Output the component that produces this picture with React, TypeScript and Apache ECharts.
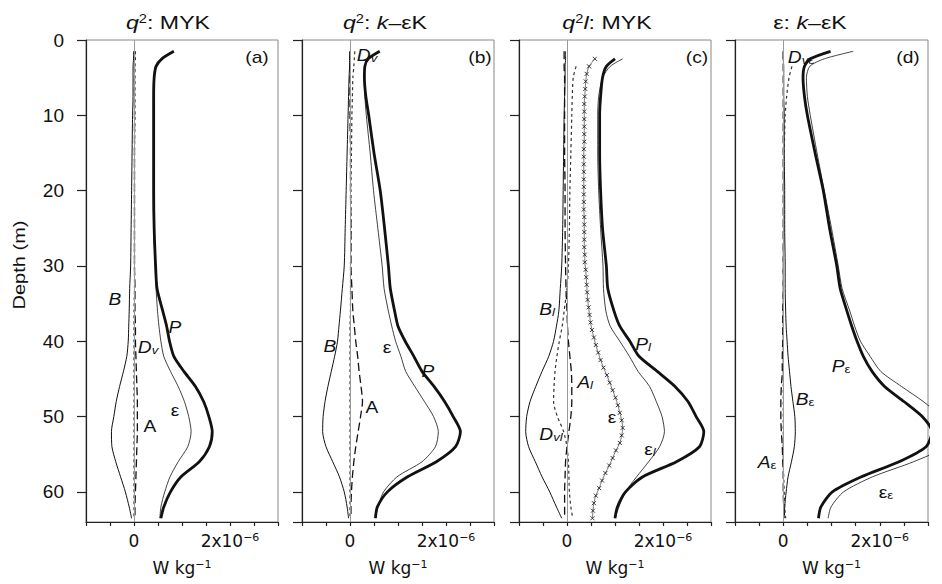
import React, { useEffect, useRef } from 'react';
import * as echarts from 'echarts';

// Depth levels (m) shared by the profiles
const DEPTH = [1.5, 2.5, 3.5, 5, 7.5, 10, 15, 20, 25, 30, 33, 36, 38, 40, 42, 44, 46, 48, 50, 52, 54, 56, 58, 60, 62, 63.5];
// Depth levels of the marked epsilon profile in panel (c)
const MARK_DEPTH = [2.5, 3.5, 4.5, 5.5, 6.5, 7.5, 8.5, 9.5, 10.5, 11.5, 12.5, 13.5, 14.5, 15.5, 16.5, 17.5, 18.5, 19.5, 20.5, 21.5, 22.5, 23.5, 24.5, 25.5, 26.5, 27.5, 28.5, 29.5, 30.5, 31.5, 32.5, 33.5, 34.5, 35.5, 36.5, 37.5, 38.5, 39.5, 40.5, 41.5, 42.5, 43.5, 44.5, 45.5, 46.5, 47.5, 48.5, 49.5, 50.5, 51.5, 52.5, 53.5, 54.5, 55.5, 56.5, 57.5, 58.5, 59.5, 60.5, 61.5, 62.5, 63.5];

// Values in units of 1e-6 W/kg
// (a) q2: MYK
const A_P = [0.83, 0.58, 0.46, 0.42, 0.41, 0.41, 0.41, 0.41, 0.42, 0.45, 0.48, 0.6, 0.68, 0.74, 0.83, 1.04, 1.28, 1.45, 1.56, 1.63, 1.57, 1.36, 0.98, 0.76, 0.62, 0.56];
const A_EPS = [null, null, 0.44, 0.41, 0.4, 0.4, 0.4, 0.4, 0.41, 0.44, 0.46, 0.49, 0.52, 0.56, 0.62, 0.76, 0.92, 1.05, 1.14, 1.19, 1.12, 0.92, 0.75, 0.64, 0.56, 0.54];
const A_B = [-0.01, -0.01, -0.02, -0.02, -0.02, -0.03, -0.04, -0.05, -0.06, -0.07, -0.09, -0.1, -0.11, -0.12, -0.15, -0.22, -0.3, -0.37, -0.42, -0.47, -0.46, -0.38, -0.28, -0.18, -0.1, -0.05];
const A_A = [0.01, 0.01, 0.01, 0.01, 0.01, 0.01, 0.01, 0.01, 0.01, 0.01, 0.02, 0.02, 0.03, 0.03, 0.04, 0.05, 0.06, 0.07, 0.07, 0.07, 0.06, 0.05, 0.04, 0.03, 0.02, 0.02];
const A_DV = [0.03, 0.03, 0.02, 0.02, 0.02, 0.02, 0.01, 0.01, 0.01, 0.01, 0.01, 0.0, 0.0, 0.0, 0.0, 0.0, 0.0, 0.0, 0.0, 0.0, 0.0, 0.0, 0.0, 0.0, 0.0, 0.0];

// (b) q2: k-eps K
const B_P = [0.62, 0.38, 0.31, 0.3, 0.33, 0.39, 0.5, 0.63, 0.72, 0.8, 0.84, 0.93, 1.0, 1.15, 1.33, 1.5, 1.75, 1.97, 2.15, 2.3, 2.2, 1.8, 1.2, 0.78, 0.57, 0.53];
const B_EPS = [null, null, null, 0.3, 0.31, 0.34, 0.42, 0.49, 0.58, 0.67, 0.71, 0.8, 0.87, 0.95, 1.06, 1.16, 1.35, 1.55, 1.74, 1.84, 1.78, 1.5, 0.98, 0.7, 0.58, 0.53];
const B_B = [0.0, -0.01, -0.01, -0.02, -0.03, -0.04, -0.06, -0.08, -0.1, -0.12, -0.16, -0.2, -0.23, -0.26, -0.32, -0.39, -0.46, -0.52, -0.56, -0.57, -0.5, -0.36, -0.22, -0.12, -0.06, -0.03];
const B_A = [0.0, 0.0, 0.0, 0.0, 0.0, 0.0, 0.01, 0.01, 0.02, 0.02, 0.04, 0.06, 0.09, 0.12, 0.16, 0.19, 0.23, 0.26, 0.22, 0.17, 0.12, 0.08, 0.05, 0.03, 0.02, 0.02];
const B_DV = [0.1, 0.09, 0.08, 0.06, 0.05, 0.04, 0.03, 0.02, 0.02, 0.01, 0.01, 0.01, 0.0, 0.0, 0.0, 0.0, 0.0, 0.0, 0.0, 0.0, 0.0, 0.0, 0.0, 0.0, 0.0, 0.0];

// (c) q2l: MYK
const C_P = [null, 1.0, 0.82, 0.74, 0.7, 0.68, 0.68, 0.7, 0.74, 0.82, 0.85, 0.98, 1.1, 1.31, 1.5, 1.88, 2.25, 2.52, 2.69, 2.85, 2.76, 2.28, 1.58, 1.22, 1.05, 1.0];
const C_EPSL = [null, 1.16, 0.9, 0.74, 0.66, 0.64, 0.64, 0.66, 0.7, 0.75, 0.76, 0.81, 0.9, 1.1, 1.3, 1.48, 1.72, 1.86, 1.98, 2.03, 1.93, 1.7, 1.45, 1.22, 1.08, 1.0];
const C_B = [-0.03, -0.03, -0.04, -0.04, -0.05, -0.06, -0.07, -0.08, -0.09, -0.11, -0.14, -0.17, -0.22, -0.28, -0.38, -0.52, -0.65, -0.77, -0.84, -0.86, -0.8, -0.66, -0.52, -0.36, -0.22, -0.11];
const C_DV = [null, null, 0.19, 0.13, 0.11, 0.1, 0.08, 0.06, 0.05, 0.03, 0.0, -0.06, -0.1, -0.16, -0.21, -0.25, -0.27, -0.28, -0.2, -0.07, 0.0, 0.03, 0.04, 0.05, 0.08, 0.12];
const C_A = [-0.06, -0.06, -0.06, -0.05, -0.05, -0.05, -0.05, -0.04, -0.04, -0.03, -0.02, 0.0, 0.01, 0.03, 0.06, 0.09, 0.1, 0.1, 0.08, 0.04, 0.0, -0.03, -0.04, -0.05, -0.05, -0.05];
const C_EPS = [0.58, 0.46, 0.41, 0.39, 0.38, 0.37, 0.36, 0.36, 0.36, 0.36, 0.36, 0.36, 0.35, 0.35, 0.35, 0.35, 0.35, 0.35, 0.35, 0.35, 0.35, 0.36, 0.36, 0.36, 0.36, 0.36, 0.37, 0.37, 0.39, 0.4, 0.41, 0.42, 0.43, 0.45, 0.47, 0.49, 0.52, 0.56, 0.6, 0.65, 0.7, 0.76, 0.83, 0.89, 0.95, 1.01, 1.06, 1.1, 1.14, 1.16, 1.14, 1.1, 1.02, 0.95, 0.88, 0.8, 0.73, 0.67, 0.6, 0.56, 0.54, 0.53];

// (d) eps: k-eps K
const D_P = [0.98, 0.56, 0.44, 0.41, 0.44, 0.5, 0.66, 0.83, 0.96, 1.11, 1.18, 1.32, 1.42, 1.53, 1.66, 1.84, 2.1, 2.5, 2.88, 3.08, 2.96, 2.4, 1.62, 1.02, 0.78, 0.73];
const D_EPS = [1.45, 0.85, 0.55, 0.48, 0.5, 0.56, 0.7, 0.85, 1.0, 1.14, 1.22, 1.38, 1.48, 1.6, 1.8, 2.02, 2.45, 2.9, 3.27, 3.5, 3.36, 2.7, 1.85, 1.25, 0.99, 0.93];
const D_B = [0.0, 0.0, 0.01, 0.01, 0.01, 0.02, 0.02, 0.03, 0.03, 0.04, 0.04, 0.05, 0.06, 0.08, 0.1, 0.13, 0.16, 0.2, 0.24, 0.25, 0.23, 0.17, 0.1, 0.06, 0.03, 0.02];
const D_A = [0.0, 0.0, 0.0, 0.0, 0.0, 0.0, 0.0, 0.0, 0.0, 0.0, 0.0, -0.01, -0.01, -0.01, -0.02, -0.02, -0.04, -0.05, -0.05, -0.04, -0.02, -0.01, 0.0, 0.0, 0.01, 0.03];
const D_DV = [null, null, 0.18, 0.12, 0.07, 0.04, 0.02, 0.01, 0.01, 0.0, 0.0, 0.0, 0.0, 0.0, 0.0, 0.0, 0.0, 0.0, 0.0, 0.0, 0.0, 0.0, 0.01, 0.02, 0.03, 0.05];

const X_MIN = -1;
const X_MAX = 3;
const X_STEP = 0.5;
const X_LABELS = [0, 2];
const Y_MIN = 0;
const Y_MAX = 64;
const Y_STEP = 10;

const FONT = '"Liberation Sans", Arial, Helvetica, sans-serif';
const WIDE = '"DejaVu Sans", "Liberation Sans", sans-serif';

const pairs = (vals: (number | null)[], depth: number[]) =>
  depth.map((d, i) => [vals[i], d]).filter((p) => p[0] !== null);

const App: React.FC = () => {
  const ref = useRef<HTMLDivElement>(null);

  useEffect(() => {
    if (!ref.current) return;
    const chart = echarts.init(ref.current, undefined, { renderer: 'svg' });

    const lefts = [86, 302, 519, 735];
    const widths = [192, 192, 192, 193];

    const rich = {
      n: { fontFamily: WIDE, fontSize: 17, color: '#111' },
      sup: { fontFamily: WIDE, fontSize: 11, color: '#111', verticalAlign: 'top', lineHeight: 10 },
    };

    const grids = lefts.map((l, i) => ({
      left: l,
      top: 40,
      width: widths[i],
      height: 482,
      show: true,
      borderColor: '#888',
      borderWidth: 1,
      backgroundColor: 'transparent',
    }));

    const xAxes = lefts.map((_, i) => ({
      type: 'value',
      gridIndex: i,
      min: X_MIN,
      max: X_MAX,
      interval: X_STEP,
      splitLine: { show: false },
      axisLine: { show: true, onZero: false, lineStyle: { color: '#222', width: 1.2 } },
      axisTick: { show: true, inside: false, length: 4, lineStyle: { color: '#222', width: 1.2 } },
      axisLabel: {
        show: true,
        margin: 10,
        formatter: (v: number) => {
          if (Math.abs(v - X_LABELS[0]) < 1e-9) return '{n|0}';
          if (Math.abs(v - X_LABELS[1]) < 1e-9) return '{n|2x10}{sup|−6}';
          return '';
        },
        rich,
      },
      name: '{n|W kg}{sup|−1}',
      nameLocation: 'middle',
      nameGap: 37,
      nameTextStyle: { rich },
    }));

    const yAxes = lefts.map((_, i) => ({
      type: 'value',
      gridIndex: i,
      inverse: true,
      min: Y_MIN,
      max: Y_MAX,
      interval: Y_STEP,
      splitLine: { show: false },
      axisLine: { show: true, onZero: false, lineStyle: { color: '#222', width: 1.2 } },
      axisTick: { show: true, inside: false, length: 9, lineStyle: { color: '#222', width: 1.2 } },
      axisLabel: {
        show: i === 0,
        margin: 22,
        fontFamily: FONT,
        fontSize: 19,
        color: '#111',
        showMaxLabel: false,
      },
    }));

    const zeroLine = {
      silent: true,
      symbol: 'none',
      label: { show: false },
      lineStyle: { color: '#999', width: 1, type: 'solid' },
      data: [{ xAxis: 0 }],
    };

    const line = (
      idx: number,
      vals: (number | null)[],
      style: any,
      extra: any = {},
      depth: number[] = DEPTH
    ) => ({
      type: 'line',
      xAxisIndex: idx,
      yAxisIndex: idx,
      data: pairs(vals, depth),
      showSymbol: false,
      symbol: 'none',
      smooth: 0.25,
      clip: false,
      lineStyle: style,
      ...extra,
    });

    const thick = { color: '#111', width: 2.8 };
    const thin = { color: '#111', width: 0.8 };
    const bStyle = { color: '#111', width: 1 };
    const aStyle = { color: '#111', width: 1.3, type: [8, 4] };
    const dvStyle = { color: '#333', width: 1.2, type: [3, 3] };

    const series: any[] = [];
    const panels = [
      { B: A_B, A: A_A, DV: A_DV, EPS: A_EPS, P: A_P },
      { B: B_B, A: B_A, DV: B_DV, EPS: B_EPS, P: B_P },
      { B: C_B, A: C_A, DV: C_DV, EPS: C_EPSL, P: C_P },
      { B: D_B, A: D_A, DV: D_DV, EPS: D_EPS, P: D_P },
    ];
    panels.forEach((p, i) => {
      series.push(line(i, p.B, bStyle, { markLine: zeroLine }));
      series.push(line(i, p.A, aStyle));
      series.push(line(i, p.DV, dvStyle));
      series.push(line(i, p.EPS, thin));
      if (i === 2) {
        series.push(
          line(
            2,
            C_EPS,
            { color: '#777', width: 1 },
            {
              showSymbol: true,
              symbol: 'path://M0,0L10,10M10,0L0,10',
              symbolSize: 4,
              itemStyle: { color: '#222', borderColor: '#222', borderWidth: 0.9 },
            },
            MARK_DEPTH
          )
        );
      }
      series.push(line(i, p.P, thick));
    });

    const labelRich = {
      n: { fontFamily: FONT, fontSize: 16, fill: '#111' },
      i: { fontFamily: FONT, fontSize: 16, fontStyle: 'italic', fill: '#111' },
      sub: { fontFamily: FONT, fontSize: 11, fill: '#111', verticalAlign: 'bottom', lineHeight: 8 },
      subi: { fontFamily: FONT, fontSize: 11, fontStyle: 'italic', fill: '#111', verticalAlign: 'bottom', lineHeight: 8 },
    };
    const titleRich = {
      n: { fontFamily: FONT, fontSize: 19, fill: '#111' },
      i: { fontFamily: FONT, fontSize: 19, fontStyle: 'italic', fill: '#111' },
      sup: { fontFamily: FONT, fontSize: 12, fill: '#111', verticalAlign: 'top', lineHeight: 10 },
    };

    const txt = (x: number, y: number, text: string, r: any = labelRich, sx = 1.2) => ({
      type: 'text',
      x,
      y,
      scaleX: sx,
      silent: true,
      z: 100,
      style: {
        text,
        rich: r,
        align: 'center',
        verticalAlign: 'middle',
        fontFamily: FONT,
        fontSize: 16,
        fill: '#111',
      },
    });

    const graphics = [
      txt(168, 22, '{i|q}{sup|2}{n|: MYK}', titleRich, 1.22),
      txt(385, 22, '{i|q}{sup|2}{n|: }{i|k}{n|–εK}', titleRich, 1.22),
      txt(607, 22, '{i|q}{sup|2}{i|l}{n|: MYK}', titleRich, 1.22),
      txt(810, 22, '{n|ε: }{i|k}{n|–εK}', titleRich, 1.22),
      txt(257, 58, '{n|(a)}'),
      txt(480, 58, '{n|(b)}'),
      txt(697, 58, '{n|(c)}'),
      txt(908, 58, '{n|(d)}'),
      // panel a
      txt(115, 300, '{i|B}'),
      txt(175, 328, '{i|P}'),
      txt(148, 348, '{i|D}{subi|v}'),
      txt(175, 411, '{n|ε}'),
      txt(150, 427, '{n|A}'),
      // panel b
      txt(367, 56, '{i|D}{subi|v}'),
      txt(330, 347, '{i|B}'),
      txt(387, 348, '{n|ε}'),
      txt(428, 372, '{i|P}'),
      txt(372, 408, '{n|A}'),
      // panel c
      txt(547, 310, '{i|B}{subi|l}'),
      txt(643, 345, '{i|P}{subi|l}'),
      txt(585, 383, '{i|A}{subi|l}'),
      txt(612, 418, '{n|ε}'),
      txt(551, 435, '{i|D}{subi|vl}'),
      txt(650, 450, '{n|ε}{subi|l}'),
      // panel d
      txt(801, 58, '{i|D}{subi|v}{sub|ε}'),
      txt(841, 367, '{i|P}{sub|ε}'),
      txt(805, 400, '{i|B}{sub|ε}'),
      txt(767, 463, '{i|A}{sub|ε}'),
      txt(886, 493, '{n|ε}{sub|ε}'),
      // y axis name
      {
        type: 'text',
        x: 20,
        y: 265,
        rotation: Math.PI / 2,
        scaleX: 1.25,
        silent: true,
        style: {
          text: 'Depth (m)',
          align: 'center',
          verticalAlign: 'middle',
          fontFamily: FONT,
          fontSize: 16,
          fill: '#111',
        },
      },
    ];

    chart.setOption({
      animation: false,
      backgroundColor: '#fff',
      grid: grids,
      xAxis: xAxes,
      yAxis: yAxes,
      series,
      graphic: graphics,
    });

    return () => chart.dispose();
  }, []);

  return (
    <div
      ref={ref}
      style={{ position: 'fixed', left: 0, top: 0, width: 942, height: 584, background: '#fff' }}
    />
  );
};

export default App;
